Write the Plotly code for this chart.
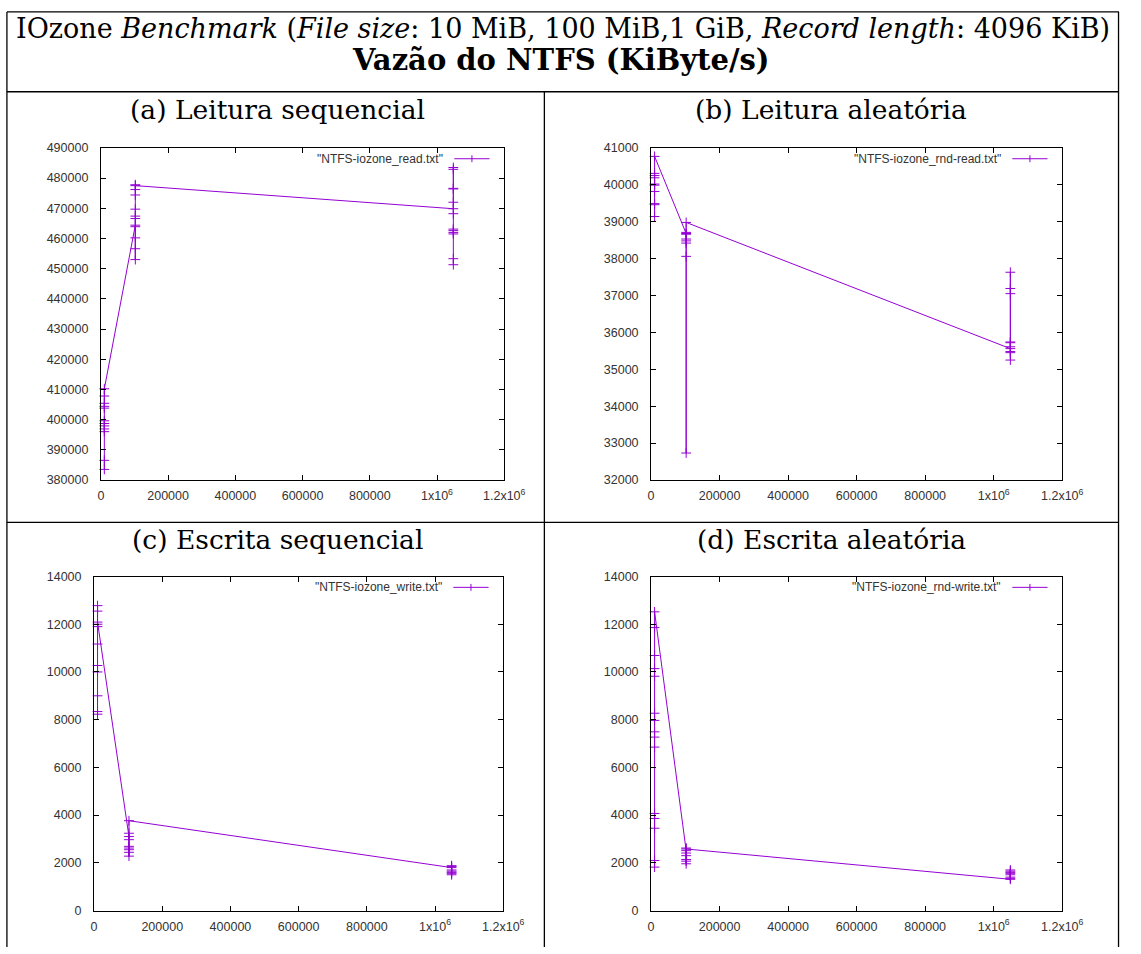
import plotly.graph_objects as go

# ---------------- data (KiByte/s) ----------------
file_sizes_kib = [10240, 102400, 1048576]   # 10 MiB, 100 MiB, 1 GiB

read_10m = [383500, 386500, 396000, 396900, 397900, 398700, 399600, 403800, 404400, 405400, 407800, 410200]
read_100m = [464400, 463900, 466600, 467400, 469700, 474400, 476200, 460200, 456600, 453000, 477800, 477500]
read_1g = [469850, 483500, 482900, 476600, 476400, 472000, 468200, 463100, 462600, 462000, 461500, 453300, 451300]

rndread_10m = [39140, 39460, 39490, 39820, 39990, 40020, 40190, 40250, 40310, 40770]
rndread_100m = [38680, 38710, 38660, 38530, 38480, 38420, 38060, 32730, 38980]
rndread_1g = [35560, 37630, 37190, 37050, 35740, 35720, 35610, 35480, 35450, 35250]

write_10m = [8230, 8340, 9000, 10000, 10270, 11170, 11900, 12000, 12550, 12780, 12090]
write_100m = [3100, 3240, 2970, 2690, 2620, 2550, 2440, 2280, 3765]
write_1g = [1800, 1880, 1850, 1700, 1650, 1600, 1560, 1500]

rndwrite_10m = [1820, 2100, 3450, 3860, 4070, 6850, 7270, 7490, 7970, 8270, 9820, 10140, 10690, 11860, 12520]
rndwrite_100m = [2510, 2620, 2410, 2300, 2140, 2070, 1960, 2580]
rndwrite_1g = [1310, 1700, 1650, 1600, 1560, 1500, 1400, 1350]

x_tickvals = [0, 200000, 400000, 600000, 800000, 1000000, 1200000]
x_ticktext = ["0", "200000", "400000", "600000", "800000", "1x10<sup>6</sup>", "1.2x10<sup>6</sup>"]

panel_titles = ["(a) Leitura sequencial", "(b) Leitura aleatória",
                "(c) Escrita sequencial", "(d) Escrita aleatória"]
legend_names = ['"NTFS-iozone_read.txt"', '"NTFS-iozone_rnd-read.txt"',
                '"NTFS-iozone_write.txt"', '"NTFS-iozone_rnd-write.txt"']
y_ranges = [(380000, 490000, 10000), (32000, 41000, 1000), (0, 14000, 2000), (0, 14000, 2000)]
series = [
    [read_10m, read_100m, read_1g],
    [rndread_10m, rndread_100m, rndread_1g],
    [write_10m, write_100m, write_1g],
    [rndwrite_10m, rndwrite_100m, rndwrite_1g],
]

# ---------------- layout helpers ----------------
W, H = 1141, 954
def fx(p): return p / W
def fy(p): return 1 - p / H

# plot areas in pixels: (left, right, top, bottom)
boxes = [(100, 512, 143, 480), (662, 1082, 143, 480),
         (93, 511, 578, 917), (662, 1082, 578, 917)]

COLOR = "#9400D3"
fig = go.Figure()
layout = dict(width=W, height=H, margin=dict(l=0, r=0, t=0, b=0),
              paper_bgcolor="white", plot_bgcolor="white", showlegend=False)

annotations = []
shapes = []

for i, (grp, box, yr) in enumerate(zip(series, boxes, y_ranges)):
    n = "" if i == 0 else str(i + 1)
    xs, ys = [], []
    for size, vals in zip(file_sizes_kib, grp):
        xs += [size] * len(vals)
        ys += vals
    fig.add_trace(go.Scatter(
        x=xs, y=ys, mode="lines+markers", xaxis="x" + n, yaxis="y" + n,
        line=dict(color=COLOR, width=1),
        marker=dict(symbol="cross-thin", size=7, line=dict(color=COLOR, width=1)),
        cliponaxis=False, showlegend=False))
    l, r, t, b = box
    common = dict(showline=True, linecolor="#000", linewidth=1, mirror="ticks",
                  ticks="inside", ticklen=5, tickcolor="#000", tickwidth=1,
                  tickfont=dict(family="Liberation Sans", size=12.5, color="#333"),
                  showgrid=False, zeroline=False)
    layout["xaxis" + n] = dict(common, domain=[fx(l), fx(r)], range=[0, 1200000],
                               tickvals=x_tickvals, ticktext=x_ticktext,
                               anchor="y" + n, ticklabelstandoff=4)
    y0, y1, dy = yr
    layout["yaxis" + n] = dict(common, domain=[fy(b), fy(t)], range=[y0, y1],
                               tickvals=list(range(y0, y1 + 1, dy)), tickformat="d",
                               anchor="x" + n, ticklabelstandoff=9)
    # key (gnuplot style: text, then sample)
    ky = t + 11
    annotations.append(dict(xref="paper", yref="paper", x=fx(r - 61), y=fy(ky),
                            xanchor="right", yanchor="middle", showarrow=False,
                            text=legend_names[i],
                            font=dict(family="Liberation Sans", size=12, color="#333")))
    shapes.append(dict(type="line", xref="paper", yref="paper",
                       x0=fx(r - 51), x1=fx(r - 15), y0=fy(ky), y1=fy(ky),
                       line=dict(color=COLOR, width=1)))
    shapes.append(dict(type="line", xref="paper", yref="paper",
                       x0=fx(r - 33), x1=fx(r - 33), y0=fy(ky - 3.5), y1=fy(ky + 3.5),
                       line=dict(color=COLOR, width=1)))

# panel titles
sub_font = dict(family="DejaVu Serif", size=26.5, color="#000")
for i, (cx, cy) in enumerate([(280, 104), (846, 104), (280, 540), (846, 540)]):
    annotations.append(dict(xref="paper", yref="paper", x=fx(cx), y=fy(cy),
                            xanchor="center", yanchor="middle", showarrow=False,
                            text=panel_titles[i], font=sub_font))

annotations.append(dict(xref="paper", yref="paper", x=fx(572), y=fy(22),
                        xanchor="center", yanchor="middle", showarrow=False,
                        text="IOzone <i>Benchmark</i> (<i>File size</i>: 10 MiB, 100 MiB,1 GiB, <i>Record length</i>: 4096 KiB)",
                        font=dict(family="DejaVu Serif", size=27, color="#000")))
annotations.append(dict(xref="paper", yref="paper", x=fx(570), y=fy(54),
                        xanchor="center", yanchor="middle", showarrow=False,
                        text="<b>Vazão do NTFS (KiByte/s)</b>",
                        font=dict(family="DejaVu Serif", size=29, color="#000")))

# table rules
def hline(y, x0, x1):
    shapes.append(dict(type="line", xref="paper", yref="paper", x0=fx(x0), x1=fx(x1),
                       y0=fy(y), y1=fy(y), line=dict(color="#000", width=1.3)))
def vline(x, y0, y1):
    shapes.append(dict(type="line", xref="paper", yref="paper", x0=fx(x), x1=fx(x),
                       y0=fy(y0), y1=fy(y1), line=dict(color="#000", width=1.3)))

hline(5, 4, 1140)
hline(86, 4, 1140)
hline(523, 4, 1140)
vline(4, 5, 954)
vline(1139.5, 5, 954)
vline(553, 86, 954)

layout["annotations"] = annotations
layout["shapes"] = shapes
fig.update_layout(**layout)
fig.write_html("out.html")
